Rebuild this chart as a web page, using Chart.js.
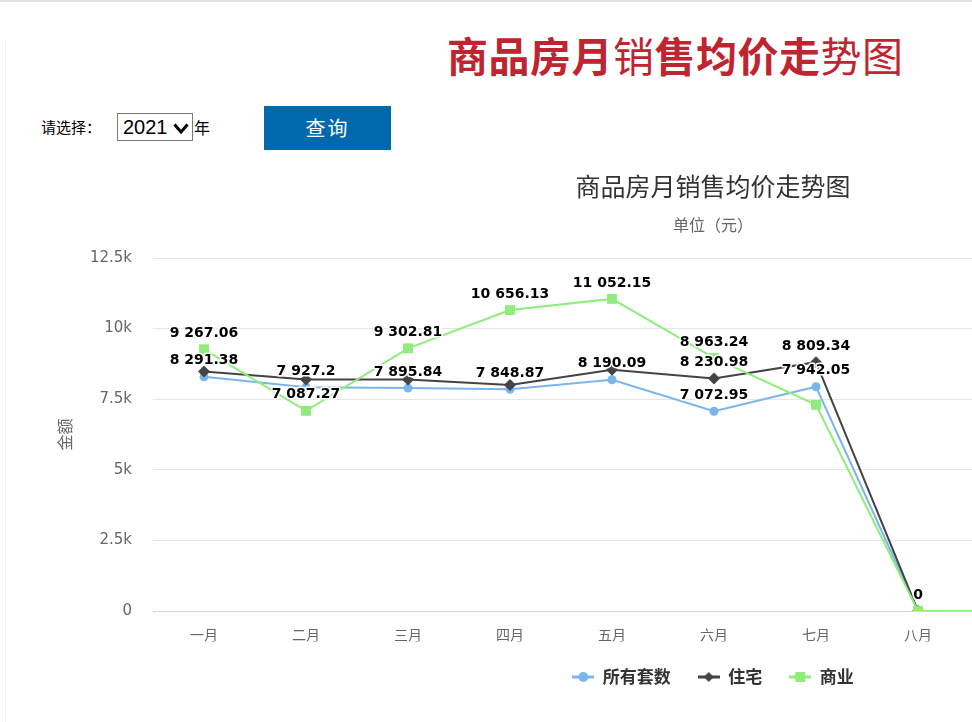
<!DOCTYPE html>
<html lang="zh-CN">
<head>
<meta charset="utf-8">
<title>商品房月销售均价走势图</title>
<script src="https://cdn.jsdelivr.net/npm/chart.js@4.4.1/dist/chart.umd.min.js"></script>
<style>
html, body { margin: 0; padding: 0; background: #fff; }
body { width: 972px; height: 722px; overflow: hidden; position: relative; font-family: "Noto Sans CJK SC", sans-serif; }
.topline { position: absolute; left: 0; top: 0; width: 972px; height: 2px; background: #e3e3e3; }
.sideline { position: absolute; left: 5px; top: 40px; width: 1px; height: 682px; background: #eeeeee; }
.head { position: absolute; left: 447px; top: 33px; font-size: 41px; line-height: 42px; font-weight: bold; color: #bf2530; white-space: nowrap; letter-spacing: 0.5px; }
.head .lite { font-weight: normal; }
.pick { position: absolute; left: 41px; top: 116px; font-size: 15px; line-height: 22px; color: #000; }
.year { position: absolute; left: 117px; top: 113px; width: 74px; height: 26px; border: 1px solid #7a7a7a; background: #fff; }
.year span { position: absolute; left: 5px; top: 0; font-family: "Liberation Sans", Arial, sans-serif; font-size: 20px; line-height: 27px; color: #000; }
.year svg { position: absolute; left: 55px; top: 9px; }
.unit { position: absolute; left: 194px; top: 116px; font-size: 16px; line-height: 22px; color: #000; }
.btn { position: absolute; left: 264px; top: 106px; width: 127px; height: 44px; background: #0069ad; color: #fff; font-size: 20px; line-height: 44px; text-align: center; letter-spacing: 2px; }
#wrap { position: absolute; left: 0; top: 150px; width: 1377px; height: 572px; }
</style>
</head>
<body>
<div class="topline"></div>
<div class="sideline"></div>
<div class="head">商品房月<span class="lite">销</span>售均价走<span class="lite">势图</span></div>
<div class="pick">请选择：</div>
<div class="year"><span>2021</span><svg width="16" height="11" viewBox="0 0 16 11"><polyline points="1.5,1.5 8,9 14.5,1.5" fill="none" stroke="#000" stroke-width="3"/></svg></div>
<div class="unit">年</div>
<div class="btn">查询</div>
<div id="wrap"><canvas id="myChart" width="1377" height="572"></canvas></div>
<script>
// 月份
const months = ['一月', '二月', '三月', '四月', '五月', '六月', '七月', '八月', '九月', '十月', '十一月', '十二月'];

// 均价 (元)
const allUnits    = [8291.38, 7927.2, 7895.84, 7848.87, 8190.09, 7072.95, 7942.05, 0, 0, 0, 0, 0];
const residential = [8480, 8200, 8200, 8000, 8540, 8230.98, 8809.34, 0, 0, 0, 0, 0];
const commercial  = [9267.06, 7087.27, 9302.81, 10656.13, 11052.15, 8963.24, 7300, 0, 0, 0, 0, 0];

// 数据标签 (重叠的不显示)
const allShown  = [1, 1, 1, 1, 1, 1, 1, 0, 0, 0, 0, 0];
const homeShown = [0, 0, 0, 0, 0, 1, 1, 0, 0, 0, 0, 0];
const shopShown = [1, 1, 1, 1, 1, 1, 0, 1, 0, 0, 0, 0];

const seriesNames = ['所有套数', '住宅', '商业'];
const seriesColors = ['#7cb5ec', '#434348', '#90ed7d'];

Chart.defaults.font.family = '"DejaVu Sans", "Noto Sans CJK SC", sans-serif';

function fmt(v) {
	let parts = String(v).split('.');
	parts[0] = parts[0].replace(/\B(?=(\d{3})+(?!\d))/g, ' ');
	return parts.join('.');
}

function legendIcon(color, shape) {
	let c = document.createElement('canvas');
	c.width = 22;
	c.height = 12;
	let g = c.getContext('2d');
	g.strokeStyle = color;
	g.lineWidth = 3;
	g.beginPath();
	g.moveTo(0, 6);
	g.lineTo(22, 6);
	g.stroke();
	g.fillStyle = color;
	g.beginPath();
	if (shape == 'circle') {
		g.arc(11, 6, 5, 0, Math.PI * 2);
	} else if (shape == 'diamond') {
		g.moveTo(11, 1); g.lineTo(16, 6); g.lineTo(11, 11); g.lineTo(6, 6); g.closePath();
	} else {
		g.rect(6, 1, 10, 10);
	}
	g.fill();
	return c;
}

const icons = [
	legendIcon(seriesColors[0], 'circle'),
	legendIcon(seriesColors[1], 'diamond'),
	legendIcon(seriesColors[2], 'square')
];

const shownList = [allShown, homeShown, shopShown];

const valueLabels = {
	id: 'valueLabels',
	afterDatasetsDraw(chart) {
		const ctx = chart.ctx;
		ctx.save();
		ctx.font = 'bold 14px "DejaVu Sans", sans-serif';
		ctx.textAlign = 'center';
		ctx.textBaseline = 'middle';
		ctx.lineJoin = 'round';
		chart.data.datasets.forEach((ds, i) => {
			const meta = chart.getDatasetMeta(i);
			meta.data.forEach((pt, j) => {
				if (!shownList[i][j]) return;
				const text = fmt(ds.data[j]);
				ctx.strokeStyle = '#fff';
				ctx.lineWidth = 3;
				ctx.strokeText(text, pt.x, pt.y - 16);
				ctx.fillStyle = '#000';
				ctx.fillText(text, pt.x, pt.y - 16);
			});
		});
		ctx.restore();
	}
};

const ctx = document.querySelector('#myChart').getContext('2d');

const chart = new Chart(ctx, {
	type: 'line',
	data: {
		labels: months,
		datasets: [
			{
				label: seriesNames[0],
				data: allUnits,
				borderColor: seriesColors[0],
				backgroundColor: seriesColors[0],
				pointStyle: 'circle',
				pointRadius: 4.5,
				order: 2
			},
			{
				label: seriesNames[1],
				data: residential,
				borderColor: seriesColors[1],
				backgroundColor: seriesColors[1],
				pointStyle: 'rectRot',
				pointRadius: 6,
				order: 1
			},
			{
				label: seriesNames[2],
				data: commercial,
				borderColor: seriesColors[2],
				backgroundColor: seriesColors[2],
				pointStyle: 'rect',
				pointRadius: 7,
				order: 0
			}
		]
	},
	options: {
		responsive: false,
		animation: false,
		devicePixelRatio: 1,
		layout: {
			autoPadding: false,
			padding: { left: 49, right: 0, top: 0, bottom: 26.5 }
		},
		elements: {
			line: { borderWidth: 2, tension: 0 },
			point: { borderWidth: 0, hoverBorderWidth: 0 }
		},
		plugins: {
			title: {
				display: true,
				text: '商品房月销售均价走势图',
				color: '#333',
				font: { size: 25, weight: 'normal', family: '"Noto Sans CJK SC", sans-serif' },
				padding: { top: 21, bottom: 0 }
			},
			subtitle: {
				display: true,
				text: '单位（元）',
				color: '#666',
				font: { size: 16, family: '"Noto Sans CJK SC", sans-serif' },
				padding: { top: 14, bottom: 23.8 }
			},
			legend: {
				position: 'bottom',
				labels: {
					usePointStyle: true,
					pointStyleWidth: 22,
					padding: 27,
					color: '#333',
					font: { size: 17, weight: 'bold', family: '"Noto Sans CJK SC", sans-serif' },
					generateLabels: function(c) {
						return c.data.datasets.map((ds, i) => ({
							text: ds.label,
							pointStyle: icons[i],
							fillStyle: ds.backgroundColor,
							strokeStyle: ds.borderColor,
							lineWidth: 0,
							fontColor: '#333',
							hidden: !c.isDatasetVisible(i),
							datasetIndex: i
						}));
					}
				}
			},
			tooltip: { enabled: false }
		},
		scales: {
			x: {
				offset: true,
				grid: { display: false, drawTicks: false },
				border: { display: true, color: '#ccd6eb', width: 1 },
				ticks: {
					color: '#666',
					font: { size: 14, family: '"Noto Sans CJK SC", sans-serif' },
					padding: 15,
					maxRotation: 0,
					autoSkip: false
				},
				afterFit: function(s) {
					s.height = 30.5;
					s.paddingLeft = 0;
					s.paddingRight = 0;
				}
			},
			y: {
				min: 0,
				max: 12500,
				ticks: {
					stepSize: 2500,
					color: '#666',
					font: { size: 15 },
					padding: 21,
					callback: function(v) { return v == 0 ? '0' : (v / 1000) + 'k'; }
				},
				grid: {
					color: function(c) { return c.tick && c.tick.value == 0 ? '#ccd6eb' : '#e6e6e6'; },
					drawTicks: false
				},
				border: { display: false },
				title: {
					display: true,
					text: '金额',
					color: '#666',
					font: { size: 16, family: '"Noto Sans CJK SC", sans-serif' },
					padding: { top: 6.4, bottom: 0 }
				},
				afterFit: function(s) { s.width = 104; }
			}
		}
	},
	plugins: [valueLabels]
});
</script>
</body>
</html>
